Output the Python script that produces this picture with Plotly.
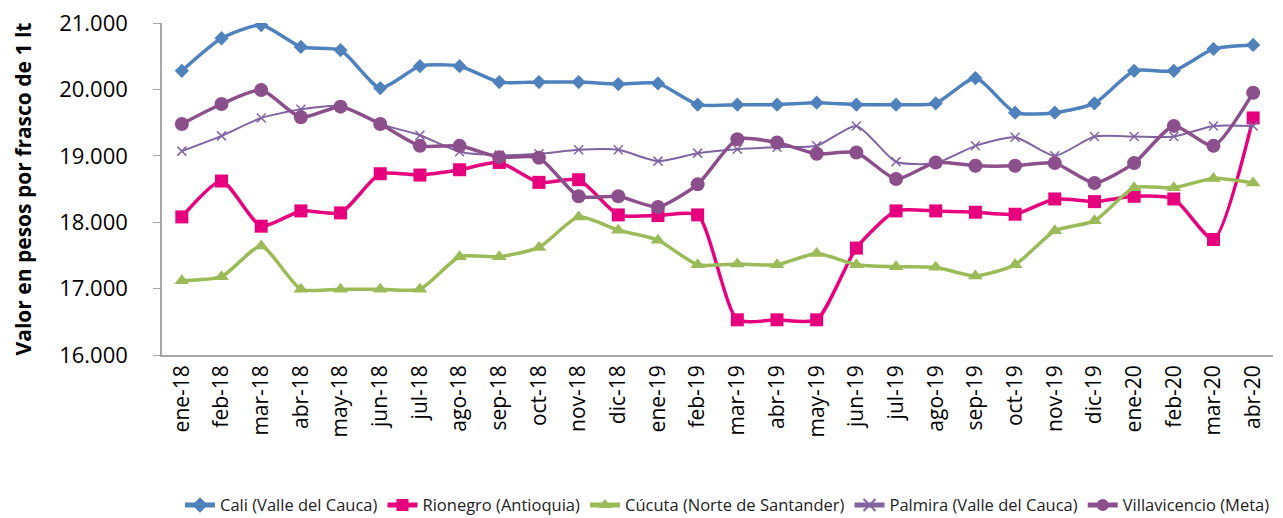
import plotly.graph_objects as go

months = ["ene-18","feb-18","mar-18","abr-18","may-18","jun-18","jul-18","ago-18","sep-18","oct-18",
          "nov-18","dic-18","ene-19","feb-19","mar-19","abr-19","may-19","jun-19","jul-19","ago-19",
          "sep-19","oct-19","nov-19","dic-19","ene-20","feb-20","mar-20","abr-20"]

cali = [20280,20770,20970,20640,20590,20020,20350,20350,20110,20110,20110,20080,20090,19770,
        19770,19770,19800,19770,19770,19790,20170,19650,19650,19790,20280,20280,20610,20670]
rionegro = [18080,18620,17940,18170,18140,18730,18710,18790,18900,18600,18640,18110,18100,18110,
            16530,16530,16530,17610,18170,18170,18150,18120,18350,18310,18390,18350,17740,19570]
cucuta = [17120,17180,17640,16990,16990,16990,16990,17480,17480,17620,18080,17880,17730,17360,
          17370,17360,17530,17360,17330,17320,17190,17360,17870,18020,18520,18520,18660,18590]
palmira = [19070,19300,19570,19700,19750,19480,19310,19060,19010,19030,19090,19090,18920,19040,
           19100,19130,19150,19450,18910,18890,19150,19280,19000,19290,19290,19290,19450,19450]
villavicencio = [19480,19780,19990,19580,19740,19480,19150,19150,18980,18970,18390,18390,18230,18570,
                 19250,19200,19030,19050,18650,18900,18850,18850,18890,18590,18890,19450,19150,19950]

series = [
    ("Cali (Valle del Cauca)", cali, "#4F81BD", "diamond", 11, 3.5),
    ("Rionegro (Antioquia)", rionegro, "#E6007E", "square", 13, 3.5),
    ("Cúcuta (Norte de Santander)", cucuta, "#9BBB59", "triangle-up", 13, 3.5),
    ("Palmira (Valle del Cauca)", palmira, "#8064A2", "x-thin-open", 9, 2),
    ("Villavicencio (Meta)", villavicencio, "#8B4F8C", "circle", 14, 3.5),
]

fig = go.Figure()
for name, vals, color, sym, size, w in series:
    marker = dict(symbol=sym, size=size, color=color)
    if sym == "x-thin-open":
        marker["line"] = dict(color=color, width=1.5)
    fig.add_trace(go.Scatter(
        x=months, y=vals, name=name, mode="lines+markers",
        line=dict(color=color, width=w, shape="spline", smoothing=0.6),
        marker=marker,
    ))

# page body has an 8px margin, so figure origin is at (8, 8)
fig.update_layout(
    width=1267, height=510,
    margin=dict(l=154, r=2, t=15, b=163, autoexpand=False),
    paper_bgcolor="white", plot_bgcolor="white",
    separators=",.",
    font=dict(family="Open Sans, Noto Sans, sans-serif", color="#000000"),
    showlegend=True,
    legend=dict(orientation="h", xref="container", x=1.0, xanchor="right",
                yref="container", y=0.025, yanchor="middle",
                font=dict(size=16.5, color="#222222"), itemwidth=30, tracegroupgap=0,
                itemsizing="constant"),
)
fig.update_xaxes(
    type="category", range=[-0.5, 27.5], tickangle=-90, automargin=False,
    showline=True, linecolor="#A6A6A6", linewidth=1.5,
    showgrid=False, ticks="", tickfont=dict(size=21),
)
fig.update_yaxes(
    range=[16000, 21000], dtick=1000, tickformat=",d", automargin=False,
    showline=True, linecolor="#A6A6A6", linewidth=1.5,
    ticks="outside", ticklen=7, tickcolor="#A6A6A6", ticklabelstandoff=21,
    ticklabeloverflow="allow",
    showgrid=False, zeroline=False, tickfont=dict(size=22),
    title=dict(text="<b>Valor en pesos por frasco de 1 lt</b>", font=dict(size=21), standoff=22),
)

fig.write_html("out.html")
